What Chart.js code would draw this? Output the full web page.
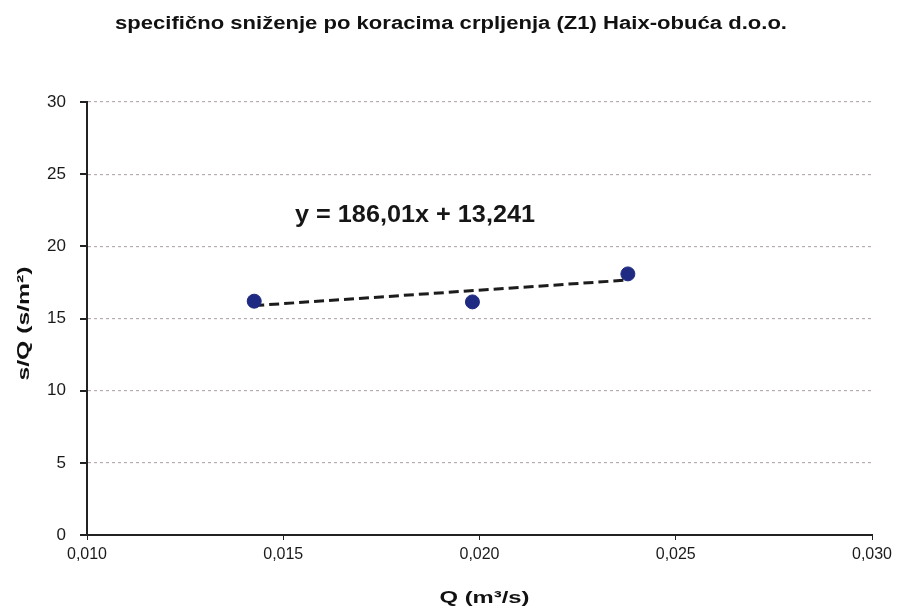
<!DOCTYPE html>
<html>
<head>
<meta charset="utf-8">
<script src="https://cdn.jsdelivr.net/npm/chart.js@4/dist/chart.umd.min.js"></script>
<style>
  html, body { margin: 0; padding: 0; background: #ffffff; }
  #wrap { width: 898px; height: 610px; }
</style>
</head>
<body>
<div id="wrap"><canvas id="c" width="898" height="610"></canvas></div>
<script>
// Pumping steps: discharge Q (m³/s) and specific drawdown s/Q (s/m²)
const qValues = [0.01426, 0.01982, 0.02378];
const sqValues = [16.2, 16.15, 18.09];

// Linear trend line as reported on the chart
const trendSlope = 186.01;
const trendIntercept = 13.241;
const trendLabel = 'y = 186,01x + 13,241';

const xTickLabels = ['0,010', '0,015', '0,020', '0,025', '0,030'];
const yTickLabels = ['0', '5', '10', '15', '20', '25', '30'];

const chartTitle = 'specifično sniženje po koracima crpljenja (Z1) Haix-obuća d.o.o.';
const xTitle = 'Q (m³/s)';
const yTitle = 's/Q (s/m²)';

const points = qValues.map((q, i) => ({ x: q, y: sqValues[i] }));
const qMin = Math.min(...qValues), qMax = Math.max(...qValues);
const trendPoints = [qMin, qMax].map(q => ({ x: q, y: trendSlope * q + trendIntercept }));

const FONT = '"Liberation Sans", Arial, sans-serif';

// Draws text in a wide bold face: the glyphs are stretched horizontally
// so that the string spans the given width.
function drawWide(ctx, text, cx, cy, font, width, angle, align) {
  ctx.save();
  ctx.font = font;
  const natural = ctx.measureText(text).width;
  const sx = width / natural;
  ctx.translate(cx, cy);
  if (angle) ctx.rotate(angle);
  ctx.scale(sx, 1);
  ctx.textAlign = align || 'center';
  ctx.textBaseline = 'middle';
  ctx.fillText(text, 0, 0);
  ctx.restore();
}

const textPlugin = {
  id: 'chartTexts',
  afterDraw(chart) {
    const ctx = chart.ctx;
    const area = chart.chartArea;
    const midX = (area.left + area.right) / 2;
    const midY = (area.top + area.bottom) / 2;
    ctx.save();
    ctx.fillStyle = '#111';
    drawWide(ctx, chartTitle, 451, 24, 'bold 18px ' + FONT, 672, 0, 'center');
    drawWide(ctx, xTitle, midX + 5, 598, 'bold 17px ' + FONT, 90, 0, 'center');
    drawWide(ctx, yTitle, 24, midY + 5, 'bold 17px ' + FONT, 114, -Math.PI / 2, 'center');
    ctx.fillStyle = '#161616';
    drawWide(ctx, trendLabel, area.left + 208, 216, 'bold 23px ' + FONT, 240, 0, 'left');
    ctx.restore();
  }
};

new Chart(document.getElementById('c'), {
  type: 'scatter',
  data: {
    datasets: [
      {
        type: 'line',
        data: trendPoints,
        borderColor: '#1c1c1c',
        borderWidth: 3,
        borderDash: [10, 5],
        pointRadius: 0,
        fill: false,
        order: 2
      },
      {
        data: points,
        backgroundColor: '#1f2a82',
        borderColor: '#1f2a82',
        pointRadius: 7,
        order: 1
      }
    ]
  },
  options: {
    responsive: false,
    animation: false,
    devicePixelRatio: 1,
    layout: { padding: { left: 0, right: 26, top: 102, bottom: 0 } },
    plugins: {
      legend: { display: false },
      tooltip: { enabled: false },
      title: { display: false }
    },
    scales: {
      x: {
        type: 'linear',
        min: 0.01,
        max: 0.03,
        afterFit(scale) { scale.height = 75; },
        afterBuildTicks(scale) {
          scale.ticks = xTickLabels.map((t, i) => ({ value: 0.01 + i * 0.005 }));
        },
        ticks: {
          callback: (v, i) => xTickLabels[i],
          color: '#1a1a1a',
          font: { family: FONT, size: 16 },
          padding: 5,
          maxRotation: 0
        },
        grid: {
          display: true,
          drawOnChartArea: false,
          drawTicks: true,
          tickLength: 5,
          color: '#222'
        },
        border: { display: true, color: '#222', width: 2 }
      },
      y: {
        type: 'linear',
        min: 0,
        max: 30,
        afterFit(scale) { scale.width = 87; },
        afterBuildTicks(scale) {
          scale.ticks = yTickLabels.map(t => ({ value: Number(t) }));
        },
        ticks: {
          callback: (v, i) => yTickLabels[i],
          color: '#1a1a1a',
          font: { family: FONT, size: 17 },
          padding: 21
        },
        grid: {
          display: true,
          drawOnChartArea: true,
          drawTicks: false,
          color: (ctx) => (ctx.tick && ctx.tick.value === 0 ? 'rgba(0,0,0,0)' : '#b8aeae'),
          lineWidth: 1.2
        },
        border: { display: true, color: '#222', width: 2, dash: [3, 3] }
      }
    }
  },
  plugins: [textPlugin, {
    // Short solid tick marks on the left of the value axis
    id: 'yTickMarks',
    afterDraw(chart) {
      const ctx = chart.ctx;
      const y = chart.scales.y;
      ctx.save();
      ctx.strokeStyle = '#222';
      ctx.lineWidth = 2;
      y.ticks.forEach(t => {
        const py = Math.round(y.getPixelForValue(t.value));
        ctx.beginPath();
        ctx.moveTo(y.right - 7, py);
        ctx.lineTo(y.right, py);
        ctx.stroke();
      });
      ctx.restore();
    }
  }]
});
</script>
</body>
</html>
